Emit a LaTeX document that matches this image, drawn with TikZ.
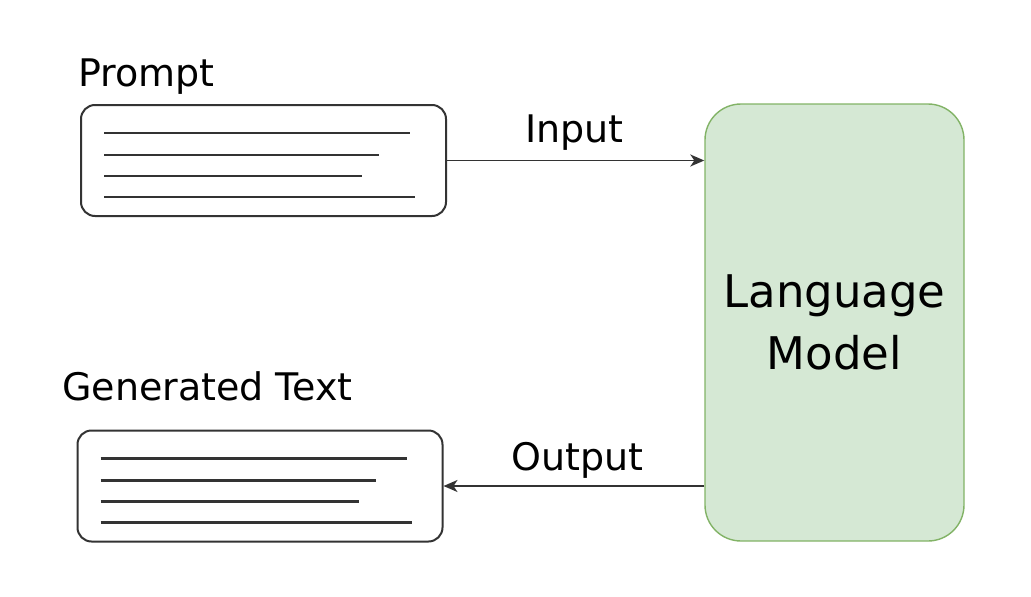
\documentclass[tikz,border=0pt]{standalone}
\usepackage{fontspec}
\usetikzlibrary{arrows.meta}
\setmainfont{DejaVu Sans}
\definecolor{ink}{HTML}{333333}
\definecolor{lmfill}{HTML}{D5E8D4}
\definecolor{lmdraw}{HTML}{82B366}
\tikzset{
	textbox/.style={draw=ink, line width=2pt, rounded corners=14pt, minimum width=365pt, minimum height=111pt, inner sep=0pt},
	textline/.style={draw=ink, line width=2.4pt},
	lbl/.style={font=\fontsize{38}{46}\selectfont, inner sep=0pt, anchor=base west},
}
\begin{document}
\begin{tikzpicture}[x=1pt,y=-1pt,>={Stealth[length=14pt,width=12pt,inset=4pt]}]
	\useasboundingbox (0,0) rectangle (1031,597);
	\node[textbox] (prompt) at (263.5,160.5) {};
	\node[textbox] (gen) at (260,486) {};
	\node[draw=lmdraw, fill=lmfill, line width=1.4pt, rounded corners=36pt, minimum width=259pt, minimum height=437pt, align=center, font=\fontsize{45}{62}\selectfont] (lm) at (834.5,322.5) {Language\\Model};
	\node[lbl] (promptlbl) at (78,86) {Prompt};
	\node[lbl] (genlbl) at (62,400) {Generated Text};
	\node[lbl] (inlbl) at (525,142) {Input};
	\node[lbl] (outlbl) at (511,470) {Output};
	\foreach \b in {prompt,gen}{
		\draw[textline] ([shift={(24,29)}]\b.north west) -- ++(306,0);
		\draw[textline] ([shift={(24,51)}]\b.north west) -- ++(275,0);
		\draw[textline] ([shift={(24,72)}]\b.north west) -- ++(258,0);
		\draw[textline] ([shift={(24,93)}]\b.north west) -- ++(311,0);
	}
	\draw[->, ink, line width=1.8pt] (prompt.east) -- (prompt -| lm.west);
	\draw[->, ink, line width=1.8pt] (gen -| lm.west) -- (gen.east);
\end{tikzpicture}
\end{document}
